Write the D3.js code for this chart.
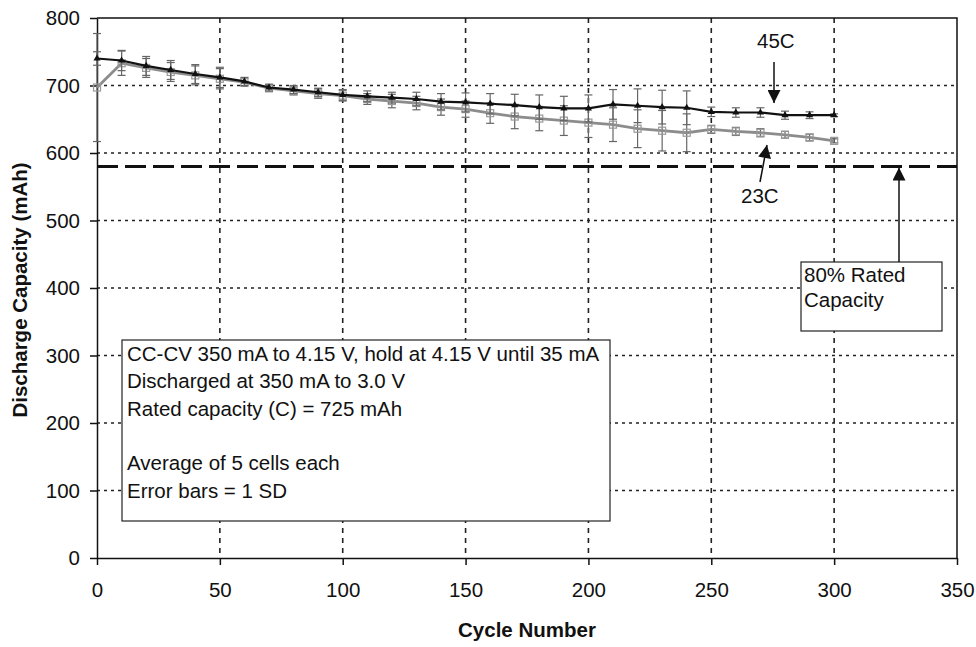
<!DOCTYPE html>
<html>
<head>
<meta charset="utf-8">
<script src="https://cdn.jsdelivr.net/npm/d3@7"></script>
<style>
  body { margin: 0; background: #fff; }
  text { font-family: "Liberation Sans", Arial, sans-serif; fill: #111; }
</style>
</head>
<body>
<svg id="chart" width="976" height="647"></svg>
<script>
// Cycle numbers (x) and capacities (mAh)
const cycles = [0, 10, 20, 30, 40, 50, 60, 70, 80, 90, 100, 110, 120, 130, 140, 150,
                160, 170, 180, 190, 200, 210, 220, 230, 240, 250, 260, 270, 280, 290, 300];
const cap45 = [740, 737, 729, 723, 717, 712, 706, 697, 694, 690, 686, 684, 682, 680, 676, 675,
               673, 671, 668, 666, 666, 672, 670, 668, 667, 661, 660, 660, 656, 656, 656];
const sd45 = [10, 15, 14, 14, 14, 15, 6, 5, 6, 6, 8, 8, 8, 10, 12, 14,
              15, 16, 18, 18, 20, 22, 25, 25, 25, 7, 7, 7, 6, 5, 2];
const cap23 = [697, 733, 726, 720, 715, 710, 705, 696, 692, 688, 685, 680, 677, 674, 668, 665,
               659, 654, 651, 648, 645, 642, 636, 633, 630, 635, 632, 630, 627, 623, 618];
const sd23 = [80, 18, 14, 14, 14, 15, 6, 5, 6, 7, 8, 8, 10, 10, 12, 12,
              15, 18, 18, 22, 22, 25, 28, 30, 28, 6, 6, 6, 5, 5, 3];

const xTicks = [0, 50, 100, 150, 200, 250, 300, 350];
const yTicks = [0, 100, 200, 300, 400, 500, 600, 700, 800];
const ratedLimit = 580; // 80% of 725 mAh

const noteLines = [
  "CC-CV 350 mA to 4.15 V, hold at 4.15 V until 35 mA",
  "Discharged at 350 mA to 3.0 V",
  "Rated capacity (C) = 725 mAh",
  "",
  "Average of 5 cells each",
  "Error bars = 1 SD"
];

const svg = d3.select("#chart");
const plotL = 97, plotR = 957, plotT = 18, plotB = 558;
const fontSize = "20.5px";

const x = d3.scaleLinear().domain([0, 350]).range([plotL, plotR]);
const y = d3.scaleLinear().domain([0, 800]).range([plotB, plotT]);

// arrow head marker
svg.append("defs").append("marker")
    .attr("id", "arrow")
    .attr("viewBox", "0 0 10 10")
    .attr("refX", 10).attr("refY", 5)
    .attr("markerWidth", 17).attr("markerHeight", 13)
    .attr("markerUnits", "userSpaceOnUse")
    .attr("orient", "auto")
  .append("path")
    .attr("d", "M0,0 L10,5 L0,10 z")
    .attr("fill", "#111");

// grid lines
svg.append("g").selectAll("line")
    .data(yTicks.filter(d => d > 0 && d < 800))
    .join("line")
    .attr("x1", plotL).attr("x2", plotR)
    .attr("y1", d => y(d)).attr("y2", d => y(d))
    .attr("stroke", "#222").attr("stroke-width", 1.6)
    .attr("stroke-dasharray", "3,4");

svg.append("g").selectAll("line")
    .data(xTicks.filter(d => d > 0 && d < 350))
    .join("line")
    .attr("x1", d => x(d)).attr("x2", d => x(d))
    .attr("y1", plotT).attr("y2", plotB)
    .attr("stroke", "#222").attr("stroke-width", 1.6)
    .attr("stroke-dasharray", "5,5");

// frame (top and right edges are solid)
svg.append("path")
    .attr("d", `M${plotL},${plotT} H${plotR} V${plotB}`)
    .attr("fill", "none").attr("stroke", "#111").attr("stroke-width", 1.5);

// axes
const xAxis = svg.append("g")
    .attr("transform", `translate(0,${plotB})`)
    .call(d3.axisBottom(x).tickValues(xTicks).tickSize(7).tickPadding(17).tickSizeOuter(0));
const yAxis = svg.append("g")
    .attr("transform", `translate(${plotL},0)`)
    .call(d3.axisLeft(y).tickValues(yTicks).tickSize(7).tickPadding(10).tickSizeOuter(0));
[xAxis, yAxis].forEach(a => {
  a.selectAll("path, line").attr("stroke", "#111").attr("stroke-width", 1.5);
  a.selectAll("text").style("font-size", fontSize).style("font-family", "'Liberation Sans', Arial, sans-serif").attr("fill", "#111");
});

// 80% rated capacity line
svg.append("line")
    .attr("x1", plotL).attr("x2", plotR)
    .attr("y1", y(ratedLimit)).attr("y2", y(ratedLimit))
    .attr("stroke", "#111").attr("stroke-width", 3.2)
    .attr("stroke-dasharray", "21,7");

// note box
const note = svg.append("g");
note.append("rect")
    .attr("x", 122).attr("y", 340).attr("width", 488).attr("height", 181)
    .attr("fill", "#fff").attr("stroke", "#222").attr("stroke-width", 1.2);
note.selectAll("text")
    .data(noteLines)
    .join("text")
    .attr("x", 127)
    .attr("y", (d, i) => 361 + i * 27.3)
    .style("font-size", fontSize)
    .text(d => d);

// series
function drawSeries(vals, sds, color, width, marker) {
  const g = svg.append("g");
  const pts = cycles.map((c, i) => ({c: c, v: vals[i], sd: sds[i]}));
  // error bars
  const eb = g.selectAll("g.eb").data(pts).join("g");
  eb.append("line")
      .attr("x1", d => x(d.c)).attr("x2", d => x(d.c))
      .attr("y1", d => y(Math.min(800, d.v + d.sd))).attr("y2", d => y(d.v - d.sd))
      .attr("stroke", "#666").attr("stroke-width", 1.2);
  [1, -1].forEach(s => {
    eb.append("line")
        .attr("x1", d => x(d.c) - 4).attr("x2", d => x(d.c) + 4)
        .attr("y1", d => y(Math.min(800, d.v + s * d.sd)))
        .attr("y2", d => y(Math.min(800, d.v + s * d.sd)))
        .attr("stroke", "#666").attr("stroke-width", 1.2);
  });
  g.append("path")
      .datum(pts)
      .attr("d", d3.line().x(d => x(d.c)).y(d => y(d.v)))
      .attr("fill", "none").attr("stroke", color).attr("stroke-width", width);
  if (marker == "square") {
    g.selectAll("rect").data(pts).join("rect")
        .attr("x", d => x(d.c) - 3.5).attr("y", d => y(d.v) - 3.5)
        .attr("width", 7).attr("height", 7)
        .attr("fill", "none").attr("stroke", "#999").attr("stroke-width", 1.2);
  } else {
    g.selectAll("path.m").data(pts).join("path")
        .attr("class", "m")
        .attr("transform", d => `translate(${x(d.c)},${y(d.v)})`)
        .attr("d", d3.symbol(d3.symbolTriangle, 22))
        .attr("fill", color);
  }
}
drawSeries(cap23, sd23, "#8c8c8c", 2.8, "square");
drawSeries(cap45, sd45, "#111", 2.2, "triangle");

// series labels with arrows
svg.append("text").attr("x", 757).attr("y", 48).style("font-size", fontSize).text("45C");
svg.append("line")
    .attr("x1", 774).attr("y1", 62).attr("x2", 774).attr("y2", 103)
    .attr("stroke", "#111").attr("stroke-width", 1.5).attr("marker-end", "url(#arrow)");
svg.append("text").attr("x", 741).attr("y", 203).style("font-size", fontSize).text("23C");
svg.append("line")
    .attr("x1", 760).attr("y1", 182).attr("x2", 767).attr("y2", 145)
    .attr("stroke", "#111").attr("stroke-width", 1.5).attr("marker-end", "url(#arrow)");

// 80% rated capacity label
svg.append("rect")
    .attr("x", 801).attr("y", 262).attr("width", 141).attr("height", 69)
    .attr("fill", "#fff").attr("stroke", "#222").attr("stroke-width", 1.2);
svg.append("text").attr("x", 804).attr("y", 282).style("font-size", fontSize).text("80% Rated");
svg.append("text").attr("x", 804).attr("y", 307).style("font-size", fontSize).text("Capacity");
svg.append("line")
    .attr("x1", 899).attr("y1", 262).attr("x2", 899).attr("y2", y(ratedLimit) + 1)
    .attr("stroke", "#111").attr("stroke-width", 1.5).attr("marker-end", "url(#arrow)");

// axis titles
svg.append("text")
    .attr("x", 527).attr("y", 637)
    .attr("text-anchor", "middle")
    .style("font-size", "20.5px").style("font-weight", "bold")
    .text("Cycle Number");
svg.append("text")
    .attr("transform", "translate(27,290) rotate(-90)")
    .attr("text-anchor", "middle")
    .style("font-size", "20.5px").style("font-weight", "bold")
    .text("Discharge Capacity (mAh)");
</script>
</body>
</html>
